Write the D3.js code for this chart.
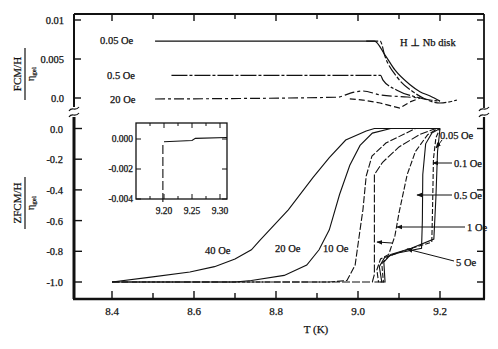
<!DOCTYPE html>
<html>
<head>
<meta charset="utf-8">
<script src="https://cdn.jsdelivr.net/npm/d3@7"></script>
<style>
  body { margin: 0; background: #fff; }
  svg text { font-family: 'Liberation Serif', 'DejaVu Serif', serif; fill: #111; stroke: #111; stroke-width: 0.25; }
</style>
</head>
<body>
<div id="chart"></div>
<script>
// ---- data ----
const tTicks = [8.4, 8.5, 8.6, 8.7, 8.8, 8.9, 9.0, 9.1, 9.2]
const tLabels = [8.4, 8.6, 8.8, 9.0, 9.2]
const fcTicks = [0, 0.005, 0.01]
const fcLabels = ['0.0', '0.005', '0.01']
const zfcTicks = [0, -0.2, -0.4, -0.6, -0.8, -1.0]
const zfcRightTicks = [0, -0.4, -0.8, -1.0]

// field-cooled magnetisation, upper panel [T, M/H]
const fc005a = [[8.505, 0.0073], [9.04, 0.0073], [9.066, 0.0055], [9.09, 0.0036], [9.127, 0.0017], [9.151, 0.0008], [9.176, 0.00026], [9.2, -0.0004]]
const fc005b = [[9.02, 0.0073], [9.054, 0.0073], [9.066, 0.0053], [9.095, 0.0027], [9.134, 0.0008], [9.159, 0.0], [9.2, -0.00064], [9.241, -0.00026]]
const fc05 = [[8.545, 0.0029], [9.055, 0.0029], [9.061, 0.0023], [9.095, 0.001], [9.144, 0.0001], [9.176, -0.00026], [9.2, -0.0004]]
const fc20a = [[8.505, -0.00013], [8.95, 0.0001], [8.98, 0.0006], [9.012, 0.0009], [9.054, 0.0004], [9.12, 0.00013], [9.151, 0.0]]
const fc20b = [[8.98, -0.0001], [9.012, -0.00026], [9.054, -0.00064], [9.102, -0.0013], [9.127, -0.0005], [9.151, 0.0]]

// zero-field-cooled magnetisation, lower panel [T, M/H]
const zfc40 = [[8.4, -1.0], [8.49, -0.97], [8.59, -0.935], [8.65, -0.9], [8.7, -0.85], [8.74, -0.79], [8.76, -0.73], [8.83, -0.53], [8.89, -0.32], [8.93, -0.19], [8.97, -0.075], [9.02, -0.016], [9.04, 0], [9.2, 0]]
const zfc20 = [[8.4, -1.0], [8.7, -1.0], [8.74, -0.99], [8.82, -0.957], [8.875, -0.89], [8.905, -0.79], [8.93, -0.66], [8.955, -0.43], [8.98, -0.24], [9.005, -0.11], [9.035, -0.03], [9.08, 0]]
const zfc10 = [[8.4, -1.0], [8.93, -1.0], [8.973, -0.99], [8.993, -0.89], [9.005, -0.66], [9.012, -0.53], [9.02, -0.31], [9.034, -0.18], [9.068, -0.095], [9.14, 0]]
const zfc5 = [[8.4, -1.0], [9.035, -1.0], [9.04, -0.95], [9.04, -0.3], [9.06, -0.22], [9.1, -0.12], [9.15, -0.04], [9.19, 0]]
const zfc1 = [[9.04, -1.0], [9.05, -1.0], [9.046, -0.92], [9.055, -0.85], [9.075, -0.82], [9.09, -0.7], [9.1, -0.55], [9.12, -0.3], [9.14, -0.15], [9.17, -0.04], [9.195, 0]]
const zfc05 = [[9.05, -1.0], [9.058, -1.0], [9.052, -0.9], [9.065, -0.84], [9.1, -0.81], [9.155, -0.78], [9.157, -0.6], [9.158, -0.3], [9.165, -0.1], [9.18, -0.03], [9.2, 0]]
const zfc01 = [[9.055, -1.0], [9.062, -1.0], [9.058, -0.88], [9.075, -0.83], [9.12, -0.79], [9.18, -0.74], [9.182, -0.5], [9.184, -0.2], [9.19, -0.06], [9.2, 0]]
const zfc005 = [[9.06, -1.0], [9.066, -1.0], [9.063, -0.87], [9.08, -0.82], [9.13, -0.78], [9.185, -0.72], [9.19, -0.45], [9.194, -0.15], [9.2, 0]]

// inset
const insetX = [9.2, 9.25, 9.3]
const insetXMinor = [9.175, 9.225, 9.275]
const insetY = [0, -0.002, -0.004]
const insetYLabels = ['0.000', '-0.002', '-0.004']
const insetDrop = [[9.198, -0.0042], [9.198, -0.0002]]
const insetTop = [[9.2, -0.00018], [9.25, -0.0001], [9.256, 0.00004], [9.3125, 0.0001]]

// ---- layout ----
const width = 498
const height = 349
const frame = { left: 74, right: 484, top: 14, bottom: 299, breakTop: 107, breakBot: 117 }

const svg = d3.select('#chart')
  .append('svg')
  .attr('width', width)
  .attr('height', height)

svg.append('rect').attr('width', width).attr('height', height).attr('fill', '#fff')

const defs = svg.append('defs')
defs.append('marker')
  .attr('id', 'arrow')
  .attr('viewBox', '0 0 10 10')
  .attr('refX', 9)
  .attr('refY', 5)
  .attr('markerWidth', 6)
  .attr('markerHeight', 6)
  .attr('orient', 'auto')
  .append('path')
  .attr('d', 'M0,1 L10,5 L0,9 Z')
  .attr('fill', '#111')

const x = d3.scaleLinear().domain([8.4, 9.2]).range([112, 440])
const yTop = d3.scaleLinear().domain([0, 0.01]).range([98, 20])
const yBot = d3.scaleLinear().domain([0, -1]).range([128.5, 282])

const ink = '#111'

// frame
const frameG = svg.append('g').attr('stroke', ink).attr('fill', 'none')
frameG.append('line').attr('x1', frame.left).attr('x2', frame.right).attr('y1', frame.top).attr('y2', frame.top).attr('stroke-width', 2)
frameG.append('line').attr('x1', frame.left - 1).attr('x2', frame.right + 1).attr('y1', frame.bottom).attr('y2', frame.bottom).attr('stroke-width', 2.5)
frameG.append('line').attr('x1', frame.left).attr('x2', frame.left).attr('y1', frame.top).attr('y2', frame.breakTop).attr('stroke-width', 2)
frameG.append('line').attr('x1', frame.left).attr('x2', frame.left).attr('y1', frame.breakBot).attr('y2', frame.bottom).attr('stroke-width', 3)
frameG.append('line').attr('x1', frame.right).attr('x2', frame.right).attr('y1', frame.top).attr('y2', frame.breakTop + 1).attr('stroke-width', 1.8)
frameG.append('line').attr('x1', frame.right).attr('x2', frame.right).attr('y1', frame.breakBot).attr('y2', frame.bottom).attr('stroke-width', 2.2)

// axis break squiggles
function squiggle (cx, cy) {
  return `M${cx - 5},${cy + 2} C${cx - 2},${cy - 3} ${cx + 1},${cy + 3} ${cx + 5},${cy - 2}`
}
;[frame.left, frame.right].forEach(cx => {
  frameG.append('path').attr('d', squiggle(cx, frame.breakTop + 2)).attr('stroke-width', 1.2)
  frameG.append('path').attr('d', squiggle(cx, frame.breakBot - 2)).attr('stroke-width', 1.2)
})

// T ticks top and bottom
tTicks.forEach(t => {
  const major = tLabels.some(l => Math.abs(l - t) < 1e-6)
  frameG.append('line').attr('x1', x(t)).attr('x2', x(t)).attr('y1', frame.top).attr('y2', frame.top + (major ? 7 : 5)).attr('stroke-width', 1.4)
  frameG.append('line').attr('x1', x(t)).attr('x2', x(t)).attr('y1', frame.bottom).attr('y2', frame.bottom - (major ? 8 : 6)).attr('stroke-width', 1.4)
})
svg.append('g')
  .selectAll('text')
  .data(tLabels)
  .enter()
  .append('text')
  .attr('x', d => x(d))
  .attr('y', 315)
  .attr('text-anchor', 'middle')
  .attr('font-size', 11)
  .text(d => d.toFixed(1))
svg.append('text').attr('x', 316).attr('y', 333).attr('text-anchor', 'middle').attr('font-size', 11).text('T (K)')

// upper y ticks
fcTicks.forEach((v, i) => {
  frameG.append('line').attr('x1', frame.left).attr('x2', frame.left + 7).attr('y1', yTop(v)).attr('y2', yTop(v)).attr('stroke-width', 1.4)
  frameG.append('line').attr('x1', frame.right).attr('x2', frame.right - 7).attr('y1', yTop(v)).attr('y2', yTop(v)).attr('stroke-width', 1.4)
  svg.append('text').attr('x', 64).attr('y', yTop(v) + 4).attr('text-anchor', 'end').attr('font-size', 10.5).text(fcLabels[i])
})

// lower y ticks
zfcTicks.forEach(v => {
  frameG.append('line').attr('x1', frame.left).attr('x2', frame.left + 8).attr('y1', yBot(v)).attr('y2', yBot(v)).attr('stroke-width', 1.4)
  svg.append('text').attr('x', 63).attr('y', yBot(v) + 4).attr('text-anchor', 'end').attr('font-size', 10.5).text(v === 0 ? '0.0' : v.toFixed(1))
})
zfcRightTicks.forEach(v => {
  frameG.append('line').attr('x1', frame.right).attr('x2', frame.right - 7).attr('y1', yBot(v)).attr('y2', yBot(v)).attr('stroke-width', 1.4)
})

// axis titles (fractions)
function fracTitle (cy, num, den, x0) {
  const g = svg.append('g').attr('transform', `translate(${x0},${cy}) rotate(-90)`)
  g.append('text').attr('x', 0).attr('y', -4).attr('text-anchor', 'middle').attr('font-size', 11).text(num)
  g.append('line').attr('x1', -26).attr('x2', 26).attr('y1', 0).attr('y2', 0).attr('stroke', ink).attr('stroke-width', 1.2)
  const d = g.append('text').attr('x', 0).attr('y', 9).attr('text-anchor', 'middle').attr('font-size', 10)
  d.append('tspan').text(den[0])
  d.append('tspan').attr('font-size', 7).attr('dy', 2).text(den[1])
}
fracTitle(74, 'FCM/H', ['η', 'gel'], 25)
fracTitle(203, 'ZFCM/H', ['η', 'gel'], 25)

// curves
const lineTopM = d3.line().x(d => x(d[0])).y(d => yTop(d[1])).curve(d3.curveMonotoneX)
const lineTopL = d3.line().x(d => x(d[0])).y(d => yTop(d[1]))
const lineBot = d3.line().x(d => x(d[0])).y(d => yBot(d[1]))

const fcSeries = [
  { data: fc005a, dash: null, smooth: true },
  { data: fc005b, dash: '12,2,4,2', smooth: true },
  { data: fc05, dash: '16,2,3,2', smooth: true },
  { data: fc20a, dash: '10,3,3,3', smooth: true },
  { data: fc20b, dash: '6,3', smooth: false }
]
svg.append('g')
  .selectAll('path')
  .data(fcSeries)
  .enter()
  .append('path')
  .attr('d', d => (d.smooth ? lineTopM(d.data) : lineTopL(d.data)))
  .attr('fill', 'none')
  .attr('stroke', ink)
  .attr('stroke-width', 1.2)
  .attr('stroke-dasharray', d => d.dash)

const zfcSeries = [
  { data: zfc40, dash: null },
  { data: zfc20, dash: null },
  { data: zfc10, dash: '7,2' },
  { data: zfc5, dash: '8,2' },
  { data: zfc1, dash: '6,2' },
  { data: zfc05, dash: null },
  { data: zfc01, dash: '5,2' },
  { data: zfc005, dash: null }
]
svg.append('g')
  .selectAll('path')
  .data(zfcSeries)
  .enter()
  .append('path')
  .attr('d', d => lineBot(d.data))
  .attr('fill', 'none')
  .attr('stroke', ink)
  .attr('stroke-width', 1.1)
  .attr('stroke-dasharray', d => d.dash)

// curve labels
const labels = [
  { t: '0.05 Oe', x: 100, y: 44 },
  { t: '0.5 Oe', x: 107, y: 79 },
  { t: '20 Oe', x: 110, y: 103 },
  { t: 'H \u22a5 Nb disk', x: 400, y: 46 },
  { t: '40 Oe', x: 205, y: 254 },
  { t: '20 Oe', x: 275, y: 252 },
  { t: '10 Oe', x: 323, y: 252 },
  { t: '0.05 Oe', x: 440, y: 139 },
  { t: '0.1 Oe', x: 454, y: 167 },
  { t: '0.5 Oe', x: 454, y: 199 },
  { t: '1 Oe', x: 467, y: 231 },
  { t: '5 Oe', x: 456, y: 266 }
]
svg.append('g')
  .selectAll('text')
  .data(labels)
  .enter()
  .append('text')
  .attr('x', d => d.x)
  .attr('y', d => d.y)
  .attr('font-size', 10.5)
  .text(d => d.t)

// label pointers (lower panel)
const pointers = [
  [442, 140, 436, 148],
  [452, 163, 433, 163],
  [452, 195, 417, 195],
  [465, 227, 397, 227],
  [454, 261, 407, 249],
  [392, 243, 377, 242]
]
svg.append('g')
  .selectAll('line')
  .data(pointers)
  .enter()
  .append('line')
  .attr('x1', d => d[0]).attr('y1', d => d[1])
  .attr('x2', d => d[2]).attr('y2', d => d[3])
  .attr('stroke', ink)
  .attr('stroke-width', 1)
  .attr('marker-end', 'url(#arrow)')

// inset
const inset = { left: 136, right: 227, top: 123, bottom: 199 }
const ix = d3.scaleLinear().domain([9.2, 9.3]).range([164, 220])
const iy = d3.scaleLinear().domain([0, -0.004]).range([139, 199])
const ig = svg.append('g').attr('stroke', ink).attr('fill', 'none')
ig.append('rect')
  .attr('x', inset.left).attr('y', inset.top)
  .attr('width', inset.right - inset.left).attr('height', inset.bottom - inset.top)
  .attr('stroke-width', 1.3)
insetX.concat(insetXMinor).forEach(t => {
  const len = insetX.includes(t) ? 5 : 3
  ig.append('line').attr('x1', ix(t)).attr('x2', ix(t)).attr('y1', inset.bottom).attr('y2', inset.bottom - len)
  ig.append('line').attr('x1', ix(t)).attr('x2', ix(t)).attr('y1', inset.top).attr('y2', inset.top + len)
})
insetY.forEach(v => {
  ig.append('line').attr('x1', inset.left).attr('x2', inset.left + 5).attr('y1', iy(v)).attr('y2', iy(v))
  ig.append('line').attr('x1', inset.right).attr('x2', inset.right - 5).attr('y1', iy(v)).attr('y2', iy(v))
})
ig.append('path').attr('d', d3.line().x(d => ix(d[0])).y(d => iy(d[1]))(insetDrop)).attr('stroke-dasharray', '9,3').attr('stroke-width', 1.1)
ig.append('path').attr('d', d3.line().x(d => ix(d[0])).y(d => iy(d[1]))(insetTop)).attr('stroke-width', 1.1)
svg.append('g')
  .selectAll('text')
  .data(insetX)
  .enter()
  .append('text')
  .attr('x', d => ix(d))
  .attr('y', 214)
  .attr('text-anchor', 'middle')
  .attr('font-size', 9.5)
  .text(d => d.toFixed(2))
svg.append('g')
  .selectAll('text')
  .data(insetY)
  .enter()
  .append('text')
  .attr('x', 133)
  .attr('y', d => iy(d) + 3)
  .attr('text-anchor', 'end')
  .attr('font-size', 9.5)
  .text((d, i) => insetYLabels[i])
</script>
</body>
</html>
